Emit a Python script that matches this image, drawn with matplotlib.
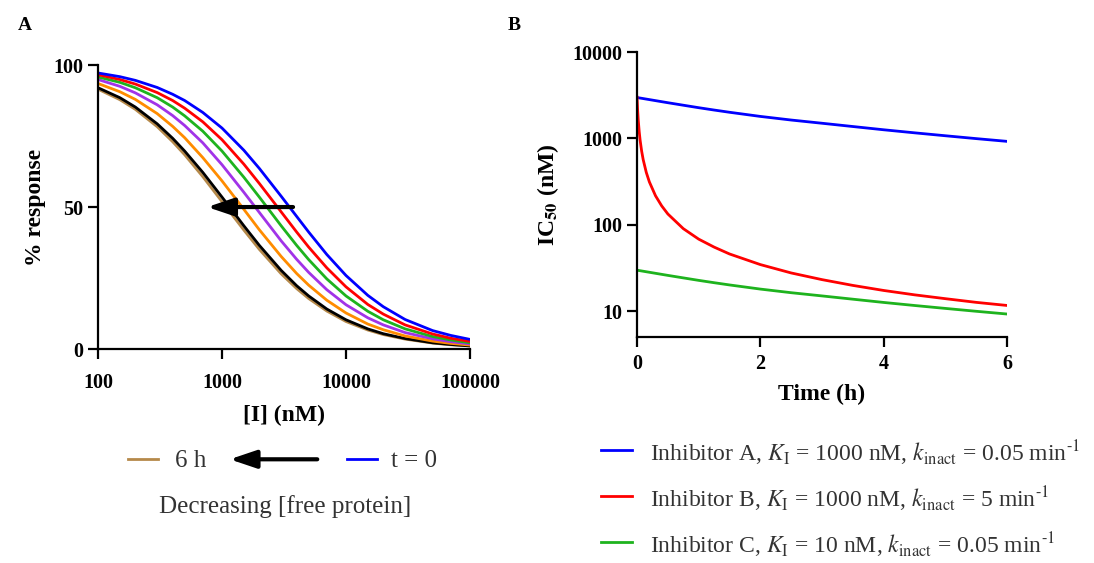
import numpy as np
import matplotlib
matplotlib.use("Agg")
import matplotlib.pyplot as plt
from matplotlib.lines import Line2D
from matplotlib.patches import FancyArrowPatch

plt.rcParams['font.family'] = ['Liberation Serif', 'DejaVu Serif']
plt.rcParams['mathtext.fontset'] = 'stix'

# ---- panel A: % response vs [I], one curve per time point ----
conc = [100, 150, 200, 300, 400, 500, 700, 1000, 1500, 2000, 3000, 4000, 5000,
        7000, 10000, 15000, 20000, 30000, 50000, 70000, 100000]
resp_blue = [97.2, 95.9, 94.6, 92.1, 89.7, 87.5, 83.3, 77.8, 70.0, 63.6, 53.8, 46.7,
             41.2, 33.3, 25.9, 18.9, 14.9, 10.4, 6.5, 4.8, 3.4]
resp_red = [96.6, 94.9, 93.3, 90.3, 87.5, 84.8, 80.0, 73.7, 65.1, 58.3, 48.3, 41.2,
            35.9, 28.6, 21.9, 15.7, 12.3, 8.5, 5.3, 3.8, 2.7]
resp_green = [95.8, 93.9, 92.0, 88.5, 85.2, 82.1, 76.7, 69.7, 60.5, 53.5, 43.4, 36.5,
              31.5, 24.7, 18.7, 13.3, 10.3, 7.1, 4.4, 3.2, 2.2]
resp_purple = [94.9, 92.5, 90.2, 86.0, 82.2, 78.7, 72.6, 64.9, 55.2, 48.1, 38.1, 31.6,
               27.0, 20.9, 15.6, 11.0, 8.5, 5.8, 3.6, 2.6, 1.8]
resp_orange = [93.5, 90.6, 87.9, 82.9, 78.4, 74.4, 67.4, 59.2, 49.2, 42.0, 32.6, 26.6,
               22.5, 17.2, 12.7, 8.8, 6.8, 4.6, 2.8, 2.0, 1.4]
resp_black = [92.0, 88.5, 85.2, 79.3, 74.2, 69.7, 62.2, 53.5, 43.4, 36.5, 27.7, 22.3,
              18.7, 14.1, 10.3, 7.1, 5.4, 3.7, 2.2, 1.6, 1.1]
resp_brown = [91.5, 87.8, 84.4, 78.3, 73.0, 68.4, 60.7, 51.9, 41.9, 35.1, 26.5, 21.3,
              17.8, 13.4, 9.7, 6.7, 5.1, 3.5, 2.1, 1.5, 1.1]

# ---- panel B: IC50 vs time ----
time_h = [0, 0.01, 0.02, 0.035, 0.05, 0.075, 0.1, 0.15, 0.2, 0.3, 0.4, 0.5, 0.75,
          1, 1.25, 1.5, 2, 2.5, 3, 3.5, 4, 4.5, 5, 5.5, 6]
ic50_A = [2970, 2962, 2954, 2942, 2930, 2910, 2890, 2850, 2811, 2734, 2659, 2587, 2420,
          2265, 2128, 2005, 1795, 1630, 1496, 1371, 1257, 1159, 1072, 993, 923]
ic50_B = [3000, 2098, 1613, 1198, 952, 710, 566, 403, 313, 216, 165, 133, 90,
          68, 55, 45.8, 34.5, 27.6, 23.1, 19.8, 17.3, 15.4, 13.9, 12.6, 11.6]
ic50_C = [29.7, 29.62, 29.54, 29.42, 29.3, 29.1, 28.9, 28.5, 28.11, 27.34, 26.59, 25.87, 24.2,
          22.65, 21.28, 20.05, 17.95, 16.3, 14.96, 13.71, 12.57, 11.59, 10.72, 9.93, 9.23]

labels_B = [
    r'Inhibitor A, $K_\mathrm{I}$ = 1000 nM, $k_\mathrm{inact}$ = 0.05 min$^{\text{-1}}$',
    r'Inhibitor B, $K_\mathrm{I}$ = 1000 nM, $k_\mathrm{inact}$ = 5 min$^{\text{-1}}$',
    r'Inhibitor C, $K_\mathrm{I}$ = 10 nM, $k_\mathrm{inact}$ = 0.05 min$^{\text{-1}}$',
]

fig = plt.figure(figsize=(10.94, 5.63), dpi=100)
axA = fig.add_axes([0.0896, 0.380, 0.340, 0.5045])
axB = fig.add_axes([0.5823, 0.4014, 0.3382, 0.5062])

tick_font = dict(fontsize=14.5, fontweight='bold')
label_font = dict(fontsize=17, fontweight='bold')
legend_color = '#333333'
arrow_style = '-|>,head_length=0.8,head_width=0.27'

# panel A
curves = [(resp_brown, '#b5894a'), (resp_black, 'black'), (resp_orange, '#ff8c00'),
          (resp_purple, '#a133e8'), (resp_green, '#1eb31e'), (resp_red, '#ff0000'),
          (resp_blue, '#0000ff')]
for vals, col in curves:
    axA.plot(conc, vals, color=col, lw=2)
axA.set_xscale('log')
axA.set_xlim(100, 100000)
axA.set_ylim(0, 100)
axA.set_xticks([100, 1000, 10000, 100000])
axA.set_xticklabels(['100', '1000', '10000', '100000'], **tick_font)
axA.minorticks_off()
axA.set_yticks([0, 50, 100])
axA.set_yticklabels(['0', '50', '100'], **tick_font)
axA.tick_params(axis='x', pad=10)
axA.set_xlabel('[I] (nM)', labelpad=9, **label_font)
axA.set_ylabel('% response', labelpad=5, **label_font)
axA.annotate('', xy=(760, 50), xytext=(3740, 50),
             arrowprops=dict(arrowstyle=arrow_style, color='black', lw=3,
                             mutation_scale=20, shrinkA=0, shrinkB=0))

# panel B
colors_B = ['#0000ff', '#ff0000', '#1eb31e']
lines_B = []
for vals, col, lab in zip([ic50_A, ic50_B, ic50_C], colors_B, labels_B):
    ln, = axB.plot(time_h, vals, color=col, lw=2, label=lab)
    lines_B.append(ln)
axB.set_yscale('log')
axB.set_xlim(0, 6)
axB.set_ylim(5, 10000)
axB.set_xticks([0, 2, 4, 6])
axB.set_xticklabels(['0', '2', '4', '6'], **tick_font)
axB.set_yticks([10, 100, 1000, 10000])
axB.set_yticklabels(['10', '100', '1000', '10000'], **tick_font)
axB.minorticks_off()
axB.tick_params(axis='x', pad=5)
axB.set_xlabel('Time (h)', labelpad=7, **label_font)
axB.set_ylabel(r'IC$_{\mathbf{50}}$ (nM)', labelpad=8, **label_font)

for ax in (axA, axB):
    for s in ('top', 'right'):
        ax.spines[s].set_visible(False)
    for s in ('left', 'bottom'):
        ax.spines[s].set_linewidth(1.6)
    ax.tick_params(width=1.6, length=7, direction='out')

# legend under panel B (rows laid out by hand)
row_line_y = [0.2007, 0.1190, 0.0373]
row_text_y = [0.1812, 0.0995, 0.0178]
for ln, ly, ty in zip(lines_B, row_line_y, row_text_y):
    fig.add_artist(Line2D([0.549, 0.578], [ly, ly], color=ln.get_color(), lw=2))
    fig.text(0.594, ty, ln.get_label(), fontsize=17, color=legend_color, va='baseline')

# legend under panel A
fig.add_artist(Line2D([0.117, 0.144], [0.1842, 0.1842], color='#b5894a', lw=2))
fig.text(0.160, 0.171, '6 h', fontsize=18, color=legend_color, va='baseline')
fig.add_artist(Line2D([0.317, 0.345], [0.1842, 0.1842], color='#0000ff', lw=2))
fig.text(0.357, 0.171, 't = 0', fontsize=18, color=legend_color, va='baseline')
fig.patches.append(FancyArrowPatch(
    (0.290, 0.1842), (0.210, 0.1842), transform=fig.transFigure, figure=fig,
    arrowstyle=arrow_style, color='black', lw=3, mutation_scale=20,
    shrinkA=0, shrinkB=0))
fig.text(0.2605, 0.0888, 'Decreasing [free protein]', fontsize=18,
         color=legend_color, ha='center', va='baseline')

fig.text(0.016, 0.955, 'A', fontsize=14, fontweight='bold', va='center')
fig.text(0.464, 0.955, 'B', fontsize=14, fontweight='bold', va='center')

fig.savefig('out.png', dpi=100)
